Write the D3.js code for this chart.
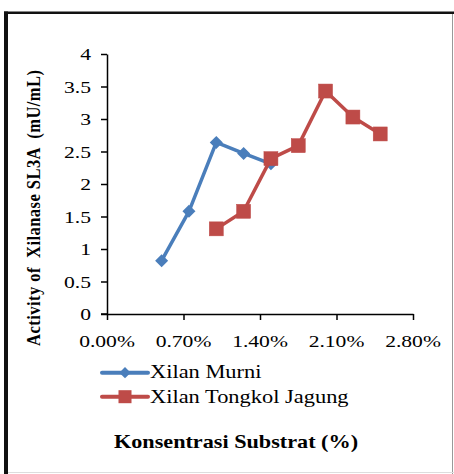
<!DOCTYPE html>
<html><head><meta charset="utf-8">
<script src="https://cdn.jsdelivr.net/npm/d3@7"></script>
<style>body{margin:0;background:#fff}svg{display:block}text{font-family:"Liberation Serif","Times New Roman",serif;fill:#000;white-space:pre}</style>
</head><body>
<script>
const xTickValues = [0, 0.7, 1.4, 2.1, 2.8];
const xTickLabels = ["0.00%", "0.70%", "1.40%", "2.10%", "2.80%"];
const yTickValues = [0, 0.5, 1, 1.5, 2, 2.5, 3, 3.5, 4];
const yTickLabels = ["0", "0.5", "1", "1.5", "2", "2.5", "3", "3.5", "4"];
const seriesNames = ["Xilan Murni", "Xilan Tongkol Jagung"];
const murniX = [0.5, 0.75, 1.0, 1.25, 1.5];
const murniY = [0.82, 1.58, 2.64, 2.47, 2.31];
const jagungX = [1.0, 1.25, 1.5, 1.75, 2.0, 2.25, 2.5];
const jagungY = [1.31, 1.58, 2.39, 2.59, 3.43, 3.03, 2.77];
const colors = ["#4a7ebb", "#be4b48"];
const xTitle = "Konsentrasi Substrat (%)";
const yTitle = "Activity of  Xilanase SL3A  (mU/mL)";

const W = 454, H = 474, SX = 1.2, SXT = 1.27;
const svg = d3.select("body").append("svg").attr("width", W).attr("height", H);

// frame
svg.append("line").attr("x1",4).attr("x2",W).attr("y1",12.8).attr("y2",12.8).attr("stroke","#111").attr("stroke-width",2.6);
svg.append("line").attr("x1",452.5).attr("x2",452.5).attr("y1",14).attr("y2",H).attr("stroke","#999").attr("stroke-width",1);
svg.append("line").attr("x1",4).attr("x2",W).attr("y1",472.5).attr("y2",472.5).attr("stroke","#ddd").attr("stroke-width",1);
svg.append("line").attr("x1",6).attr("x2",6).attr("y1",11.5).attr("y2",H).attr("stroke","#111").attr("stroke-width",4);

const x = d3.scaleLinear().domain([0, 2.8]).range([107, 413]);
const y = d3.scaleLinear().domain([0, 4]).range([314, 54]);

// axes
const gy = svg.append("g").attr("transform", `translate(${x(0)},0)`)
  .call(d3.axisLeft(y).tickValues(yTickValues).tickFormat(()=>"").tickSizeOuter(0).tickSizeInner(6));
const gx = svg.append("g").attr("transform", `translate(0,${y(0)})`)
  .call(d3.axisBottom(x).tickValues(xTickValues).tickFormat(()=> "").tickSizeOuter(0).tickSizeInner(6));
[gx, gy].forEach(g => { g.selectAll("path,line").attr("stroke","#000").attr("stroke-width",1.5); });
svg.append("line").attr("x1", x(0)-6).attr("x2", x(0)).attr("y1", y(0)).attr("y2", y(0)).attr("stroke","#000").attr("stroke-width",1.5);

// tick labels (stretched horizontally like the reference)
yTickValues.forEach((v,i) => {
  svg.append("text").attr("transform", `translate(91,${y(v)+6}) scale(${SXT},1)`)
    .attr("text-anchor","end").attr("font-size",17).text(yTickLabels[i]);
});
xTickValues.forEach((v,i) => {
  svg.append("text").attr("transform", `translate(${x(v)},347) scale(${SXT},1)`)
    .attr("text-anchor","middle").attr("font-size",17).text(xTickLabels[i]);
});

// lines and markers
const line = d3.line().x(d=>x(d[0])).y(d=>y(d[1]));
const murni = murniX.map((v,i)=>[v, murniY[i]]);
const jagung = jagungX.map((v,i)=>[v, jagungY[i]]);

svg.append("path").datum(murni).attr("d", line).attr("fill","none").attr("stroke",colors[0]).attr("stroke-width",3.5).attr("stroke-linejoin","round");
svg.selectAll(".dm").data(murni).enter().append("rect")
  .attr("x",-4.6).attr("y",-4.6).attr("width",9.2).attr("height",9.2)
  .attr("transform", d=>`translate(${x(d[0])},${y(d[1])}) rotate(45)`)
  .attr("fill",colors[0]);

svg.append("path").datum(jagung).attr("d", line).attr("fill","none").attr("stroke",colors[1]).attr("stroke-width",3.5).attr("stroke-linejoin","round");
svg.selectAll(".sq").data(jagung).enter().append("rect")
  .attr("x", d=>x(d[0])-7).attr("y", d=>y(d[1])-7).attr("width",14).attr("height",14)
  .attr("fill",colors[1]).attr("stroke",colors[1]).attr("stroke-width",0.5);

// legend
const legY = [372.7, 396.7], legBase = [378, 403];
seriesNames.forEach((name,i) => {
  svg.append("line").attr("x1",102).attr("x2",148).attr("y1",legY[i]).attr("y2",legY[i])
    .attr("stroke",colors[i]).attr("stroke-width",4).attr("stroke-linecap","round");
  if (i === 0) {
    svg.append("rect").attr("x",-4).attr("y",-4).attr("width",8).attr("height",8)
      .attr("transform", `translate(125,${legY[i]}) rotate(45)`).attr("fill",colors[i]);
  } else {
    svg.append("rect").attr("x",118.5).attr("y",legY[i]-6.5).attr("width",13).attr("height",13).attr("fill",colors[i]);
  }
  svg.append("text").attr("transform", `translate(150,${legBase[i]}) scale(${SX},1)`)
    .attr("font-size",18.7).text(name);
});

// axis titles
svg.append("text").attr("transform", `translate(236,448) scale(${SX},1)`)
  .attr("text-anchor","middle").attr("font-size",18.5).attr("font-weight","bold").text(xTitle);
svg.append("text").attr("transform", `translate(40,208) scale(${SX},1) rotate(-90)`)
  .attr("text-anchor","middle").attr("font-size",16.5).attr("font-weight","bold")
  .attr("textLength", 276).attr("lengthAdjust","spacing").text(yTitle);
</script>
</body></html>
